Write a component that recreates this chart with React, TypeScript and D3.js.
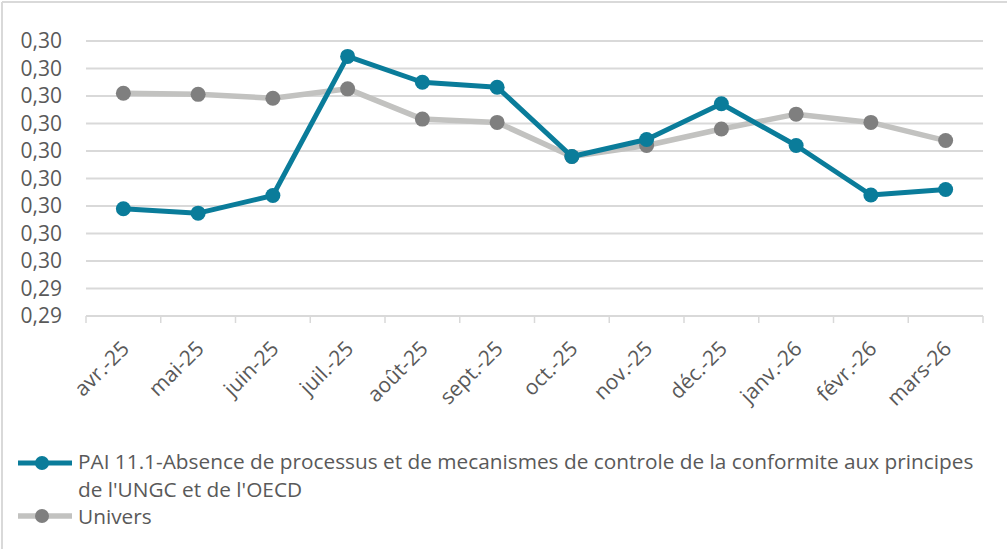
import React, { useEffect, useRef } from 'react';
import * as d3 from 'd3';

const months = ['avr.-25', 'mai-25', 'juin-25', 'juil.-25', 'août-25', 'sept.-25', 'oct.-25', 'nov.-25', 'déc.-25', 'janv.-26', 'févr.-26', 'mars-26'];
const paiValues = [0.29595, 0.29587, 0.29619, 0.29872, 0.29825, 0.29816, 0.2969, 0.29721, 0.29786, 0.2971, 0.2962, 0.2963];
const universValues = [0.29805, 0.29803, 0.29796, 0.29813, 0.29758, 0.29752, 0.2969, 0.2971, 0.2974, 0.29767, 0.29752, 0.29719];
const yTicks = [0.294, 0.2945, 0.295, 0.2955, 0.296, 0.2965, 0.297, 0.2975, 0.298, 0.2985, 0.299];
const yTickLabels = ['0,29', '0,29', '0,30', '0,30', '0,30', '0,30', '0,30', '0,30', '0,30', '0,30', '0,30'];
const paiName = "PAI 11.1-Absence de processus et de mecanismes de controle de la conformite aux principes";
const paiName2 = "de l'UNGC et de l'OECD";
const universName = 'Univers';

const W = 1007;
const H = 549;
const TEAL = '#0a7c9a';
const LIGHT = '#c2c2c0';
const DARK = '#7f7f7f';
const TEXT = '#595959';
const FONT = "'Open Sans', 'Noto Sans', sans-serif";

const App = () => {
  const ref = useRef<SVGSVGElement>(null);

  useEffect(() => {
    const svg = d3.select(ref.current);
    svg.selectAll('*').remove();

    // frame borders (only top and left show)
    svg.append('line').attr('x1', 2).attr('x2', W).attr('y1', 2).attr('y2', 2).attr('stroke', '#d9d9d9').attr('stroke-width', 2);
    svg.append('line').attr('x1', 2).attr('x2', 2).attr('y1', 2).attr('y2', H).attr('stroke', '#d9d9d9').attr('stroke-width', 2);

    const x = d3.scaleBand().domain(months).range([86, 983]);
    const y = d3.scaleLinear().domain([0.294, 0.299]).range([316, 41]);
    const cx = (m: string) => (x(m) as number) + x.bandwidth() / 2;

    // gridlines
    svg.append('g').selectAll('line')
      .data(yTicks.slice(1))
      .enter().append('line')
      .attr('x1', 86).attr('x2', 983)
      .attr('y1', d => y(d)).attr('y2', d => y(d))
      .attr('stroke', '#d9d9d9').attr('stroke-width', 2);

    // x axis line + ticks
    svg.append('line').attr('x1', 86).attr('x2', 983).attr('y1', 316).attr('y2', 316)
      .attr('stroke', '#d9d9d9').attr('stroke-width', 2);
    const tickXs = months.map(m => x(m) as number).concat([983]);
    svg.append('g').selectAll('line')
      .data(tickXs)
      .enter().append('line')
      .attr('x1', d => d).attr('x2', d => d)
      .attr('y1', 316).attr('y2', 323)
      .attr('stroke', '#d9d9d9').attr('stroke-width', 1.5);

    // y labels
    svg.append('g').selectAll('text')
      .data(yTicks)
      .enter().append('text')
      .attr('x', 62).attr('y', d => y(d))
      .attr('dy', '0.35em')
      .attr('text-anchor', 'end')
      .style('font-family', FONT).style('font-size', '21px').attr('fill', TEXT)
      .text((d, i) => yTickLabels[i]);

    // x labels
    svg.append('g').selectAll('text')
      .data(months)
      .enter().append('text')
      .attr('transform', d => `translate(${cx(d) + 7}, 350) rotate(-45)`)
      .attr('text-anchor', 'end')
      .style('font-family', FONT).style('font-size', '21px').attr('fill', TEXT)
      .text(d => d);

    const line = d3.line<number>().x((d, i) => cx(months[i])).y(d => y(d));

    // Univers series
    svg.append('path').datum(universValues)
      .attr('d', line).attr('fill', 'none').attr('stroke', LIGHT).attr('stroke-width', 5.5).attr('stroke-linejoin', 'round');
    svg.append('g').selectAll('circle')
      .data(universValues)
      .enter().append('circle')
      .attr('cx', (d, i) => cx(months[i])).attr('cy', d => y(d)).attr('r', 7.5)
      .attr('fill', DARK);

    // PAI series
    svg.append('path').datum(paiValues)
      .attr('d', line).attr('fill', 'none').attr('stroke', TEAL).attr('stroke-width', 5).attr('stroke-linejoin', 'round');
    svg.append('g').selectAll('circle')
      .data(paiValues)
      .enter().append('circle')
      .attr('cx', (d, i) => cx(months[i])).attr('cy', d => y(d)).attr('r', 7.5)
      .attr('fill', TEAL);

    // legend
    const legend = svg.append('g');
    legend.append('line').attr('x1', 18).attr('x2', 72).attr('y1', 463).attr('y2', 463).attr('stroke', TEAL).attr('stroke-width', 5);
    legend.append('circle').attr('cx', 42).attr('cy', 463).attr('r', 7).attr('fill', TEAL);
    legend.append('line').attr('x1', 18).attr('x2', 72).attr('y1', 516).attr('y2', 516).attr('stroke', LIGHT).attr('stroke-width', 5.5);
    legend.append('circle').attr('cx', 42).attr('cy', 516).attr('r', 7).attr('fill', DARK);
    const lt = [
      { t: paiName, y: 462 },
      { t: paiName2, y: 490 },
      { t: universName, y: 517 },
    ];
    legend.selectAll('text')
      .data(lt)
      .enter().append('text')
      .attr('x', 78).attr('y', d => d.y).attr('dy', '0.35em')
      .style('font-family', FONT).style('font-size', '20.8px').attr('fill', TEXT)
      .text(d => d.t);
  }, []);

  return (
    <svg ref={ref} width={W} height={H} style={{ position: 'absolute', left: 0, top: 0, background: '#fff' }} />
  );
};

export default App;
